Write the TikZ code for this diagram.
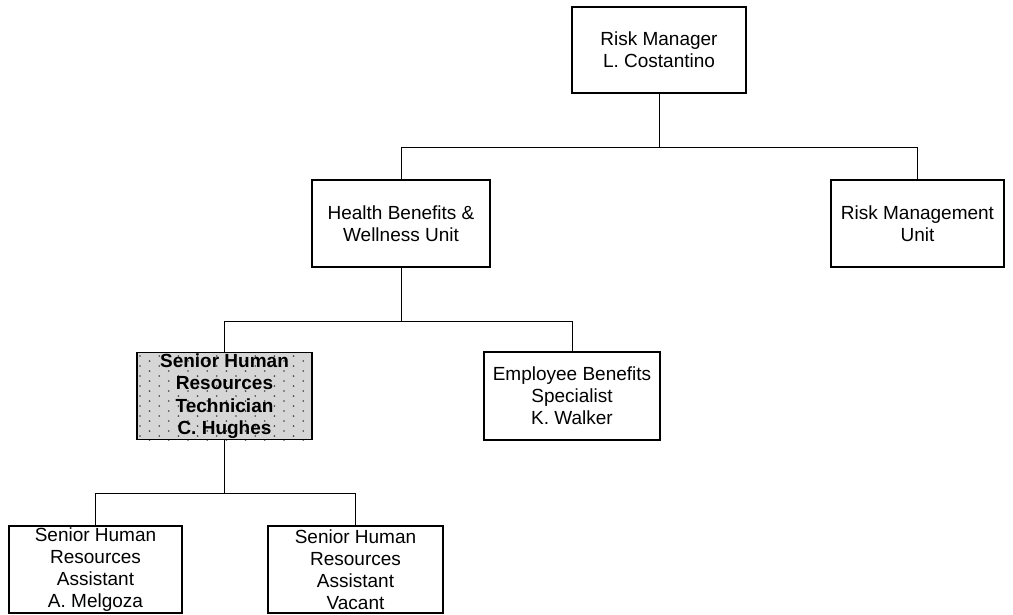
\documentclass[tikz,border=0pt]{standalone}
\usepackage{fontspec}
\setmainfont{Liberation Sans}
\usetikzlibrary{backgrounds}
\begin{document}
\begin{tikzpicture}[x=1pt,y=-1pt,
  box/.style={draw=black, line width=1.8pt, inner sep=0pt, align=center,
    font=\fontsize{19}{22}\selectfont},
  link/.style={draw=black, line width=1pt},
  dotc/.style={fill=black!75}]
\useasboundingbox (0,0) rectangle (1013,614);
\node[box, minimum width=174pt, minimum height=86pt] (rm) at (659,50) {Risk Manager\\L. Costantino};
\node[box, minimum width=178pt, minimum height=87pt] (hb) at (401,223.5) {Health Benefits \&\\Wellness Unit};
\node[box, minimum width=173pt, minimum height=87pt] (rmu) at (917.5,223.5) {Risk Management\\Unit};
\node[box, minimum width=175pt, minimum height=87pt, font=\fontsize{19}{22.5}\selectfont\bfseries] (tech) at (224.5,396) {Senior Human\\Resources\\Technician\\C. Hughes};
\node[box, minimum width=176pt, minimum height=88pt] (eb) at (572,396) {Employee Benefits\\Specialist\\K. Walker};
\node[box, minimum width=173pt, minimum height=87pt] (a1) at (95.5,569.5) {Senior Human\\Resources\\Assistant\\A. Melgoza};
\node[box, minimum width=175pt, minimum height=87pt] (a2) at (355.5,569.5) {Senior Human\\Resources\\Assistant\\Vacant};
\begin{scope}[on background layer]
  \fill[black!16] (tech.south west) rectangle (tech.north east);
  \clip (tech.south west) rectangle (tech.north east);
  \foreach \i in {0,...,18}{
    \foreach \j in {0,...,9}{
      \pgfmathsetmacro{\yy}{356+10*\j+5*mod(\i,2)}
      \fill[dotc] ({140+9.6*\i},\yy) circle[radius=0.9pt];
    }
  }
\end{scope}
\coordinate (b1) at (659,147);
\coordinate (b2) at (401,321);
\coordinate (b3) at (224.5,493);
\draw[link] (rm.south) -- (b1);
\draw[link] (b1) -| (hb.north);
\draw[link] (b1) -| (rmu.north);
\draw[link] (hb.south) -- (b2);
\draw[link] (b2) -| (tech.north);
\draw[link] (b2) -| (eb.north);
\draw[link] (tech.south) -- (b3);
\draw[link] (b3) -| (a1.north);
\draw[link] (b3) -| (a2.north);
\end{tikzpicture}
\end{document}
